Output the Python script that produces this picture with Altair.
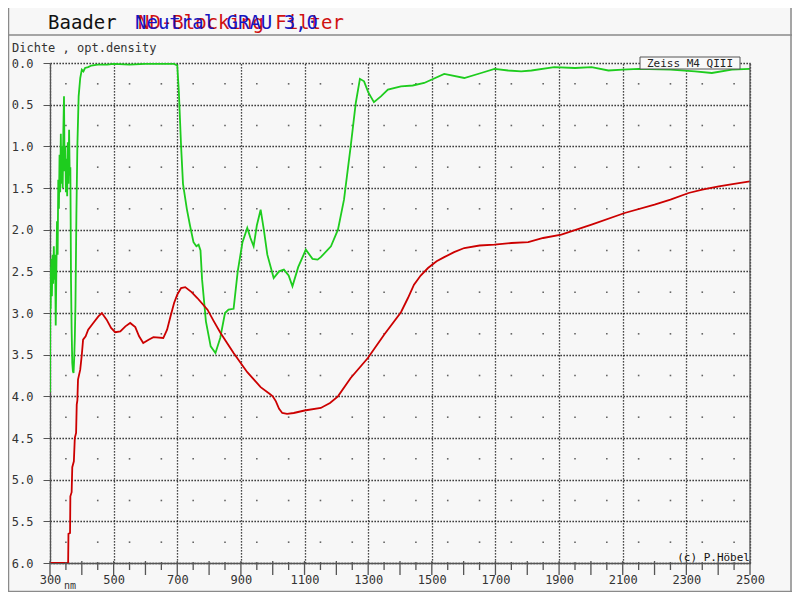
import numpy as np
import pandas as pd
import altair as alt

# green curve: ND-Blocking filter, optical density vs wavelength (nm)
green_nm = [300, 301, 302, 304, 306, 308, 310, 312, 314, 316, 318, 320, 322, 324,
            326, 328, 330, 332, 334, 336, 338, 340, 342, 344, 346, 348, 350, 352,
            354, 356, 358, 360, 362, 364, 366, 368, 370, 372, 374, 376, 378, 380,
            383, 386, 390, 395, 400, 405, 410, 420, 430, 450, 480, 500, 550, 600,
            650, 690, 700, 705, 712, 718, 730, 740, 751, 760, 767, 773, 778, 790,
            805, 820, 835, 850, 861, 877, 890, 905, 920, 930, 940, 950, 962, 972,
            983, 1003, 1020, 1035, 1050, 1062, 1080, 1104, 1125, 1141, 1151, 1183,
            1205, 1224, 1245, 1261, 1274, 1287, 1300, 1318, 1340, 1362, 1403, 1440,
            1476, 1539, 1602, 1655, 1697, 1740, 1781, 1813, 1885, 1950, 2002, 2055,
            2100, 2150, 2250, 2327, 2380, 2443, 2500]
green_od = [3.95, 2.45, 2.95, 2.35, 2.8, 2.3, 2.65, 2.2, 2.6, 2.3, 3.15, 2.5, 1.9, 2.3,
            1.4, 1.75, 1.1, 1.55, 0.85, 1.45, 1.0, 1.5, 0.8, 0.4, 1.3, 1.0, 1.55, 1.15,
            1.6, 0.95, 1.45, 0.8, 1.35, 1.25, 2.6, 3.2, 3.6, 3.7, 3.72, 3.55, 3.3, 2.9,
            1.8, 1.0, 0.4, 0.18, 0.08, 0.1, 0.06, 0.05, 0.03, 0.02, 0.02, 0.01, 0.02, 0.01,
            0.01, 0.01, 0.03, 0.35, 1.0, 1.45, 1.75, 1.95, 2.15, 2.2, 2.18, 2.25, 2.6, 3.1,
            3.4, 3.48, 3.3, 3.0, 2.96, 2.95, 2.5, 2.15, 1.98, 2.1, 2.2, 1.95, 1.76, 2.0,
            2.3, 2.58, 2.5, 2.48, 2.55, 2.68, 2.45, 2.24, 2.35, 2.36, 2.33, 2.2,
            2.0, 1.64, 1.0, 0.48, 0.19, 0.22, 0.35, 0.47, 0.4, 0.32, 0.28, 0.27,
            0.24, 0.13, 0.18, 0.12, 0.07, 0.09, 0.1, 0.09, 0.05, 0.06, 0.05, 0.09,
            0.08, 0.07, 0.08, 0.1, 0.12, 0.08, 0.07]

# red curve: Neutral GRAU 3,0
red_nm = [300, 357, 358, 363, 364, 368, 370, 375, 378, 382, 384, 386, 388, 395, 400,
          404, 412, 420, 436, 452, 463, 478, 492, 505, 521, 537, 552, 568, 580, 593,
          610, 625, 656, 668, 678, 690, 700, 712, 725, 745, 763, 795, 815, 836, 877,
          920, 962, 990, 1000, 1010, 1020, 1030, 1045, 1066, 1100, 1151, 1180, 1205, 1245,
          1299, 1350, 1403, 1425, 1444, 1465, 1488, 1515, 1539, 1570, 1602, 1650, 1697,
          1750, 1803, 1850, 1907, 2002, 2106, 2200, 2250, 2307, 2350, 2402, 2450, 2500]
red_od = [6.0, 6.0, 5.65, 5.64, 5.2, 5.15, 4.85, 4.78, 4.5, 4.44, 4.1, 4.05, 3.8, 3.68, 3.5,
          3.32, 3.28, 3.2, 3.12, 3.04, 3.0, 3.08, 3.18, 3.23, 3.22, 3.16, 3.12, 3.17, 3.28, 3.36,
          3.32, 3.29, 3.3, 3.2, 3.05, 2.88, 2.78, 2.7, 2.69, 2.75, 2.82, 2.96, 3.1, 3.24, 3.48,
          3.71, 3.89, 3.97, 4.0, 4.06, 4.15, 4.2, 4.21, 4.2, 4.17, 4.14, 4.08, 4.0, 3.78,
          3.54, 3.26, 2.99, 2.82, 2.66, 2.55, 2.46, 2.38, 2.33, 2.27, 2.22, 2.19, 2.18,
          2.16, 2.15, 2.1, 2.06, 1.94, 1.8, 1.7, 1.64, 1.56, 1.52, 1.48, 1.45, 1.42]

x_ticks = list(range(300, 2501, 100))
y_ticks = [i * 0.5 for i in range(13)]

W, H = 700, 500
MONO = "DejaVu Sans Mono"
BG = "#f7f7f7"

df = pd.concat([
    pd.DataFrame({"nm": green_nm, "od": green_od, "filter": "ND-Blocking Filter"}),
    pd.DataFrame({"nm": red_nm, "od": red_od, "filter": "Neutral GRAU 3,0"}),
])

xscale = alt.Scale(domain=[300, 2500], nice=False, zero=False)
yscale = alt.Scale(domain=[0, 6], reverse=True, nice=False)

grid_axis = dict(grid=True, gridColor="#111", gridDash=[1.3, 1.7], gridWidth=1.3,
                 labelFont=MONO, labelFontSize=12, labelColor="#333", labelFlush=False,
                 domainColor="#555", domainWidth=1.3, title=None)

lines = alt.Chart(df).mark_line(strokeWidth=1.8, clip=True).encode(
    x=alt.X("nm:Q", scale=xscale,
            axis=alt.Axis(values=x_ticks, ticks=False, labelPadding=11,
                          labelExpr="(datum.value - 300) % 200 == 0 ? datum.value : ''",
                          **grid_axis)),
    y=alt.Y("od:Q", scale=yscale,
            axis=alt.Axis(values=y_ticks, format=".1f", tickSize=7, tickColor="#555",
                          labelPadding=10, **grid_axis)),
    color=alt.Color("filter:N", legend=None,
                    scale=alt.Scale(domain=["ND-Blocking Filter", "Neutral GRAU 3,0"],
                                    range=["#1ecc1e", "#cc0000"])),
)

# single dots in the middle of each grid cell
dot_x, dot_y = np.meshgrid(np.arange(350, 2500, 100), np.arange(0.25, 6, 0.5))
dots = alt.Chart(pd.DataFrame({"nm": dot_x.ravel(), "od": dot_y.ravel()})).mark_square(
    size=2.5, color="#222"
).encode(x=alt.X("nm:Q", scale=xscale), y=alt.Y("od:Q", scale=yscale))

major = alt.Chart(pd.DataFrame({"nm": x_ticks})).mark_rule(color="#555", strokeWidth=1.3).encode(
    x=alt.X("nm:Q", scale=xscale), y=alt.value(H - 2), y2=alt.value(H + 12))
minor = alt.Chart(pd.DataFrame({"nm": list(range(350, 2500, 100))})).mark_rule(
    color="#555", strokeWidth=1.3
).encode(x=alt.X("nm:Q", scale=xscale), y=alt.value(H - 1), y2=alt.value(H + 7))
right_edge = alt.Chart(pd.DataFrame({"nm": [2500]})).mark_rule(color="#555", strokeWidth=1.3).encode(
    x=alt.X("nm:Q", scale=xscale), y=alt.value(0), y2=alt.value(H))

one = pd.DataFrame({"a": [0]})
frame = alt.Chart(one).mark_rule(color="#8a8a8a", strokeWidth=1.5)
frame_lines = (
    frame.encode(x=alt.value(-42), x2=alt.value(742), y=alt.value(-28))
    + frame.encode(x=alt.value(-41.5), y=alt.value(-55), y2=alt.value(529))
    + frame.encode(x=alt.value(741), y=alt.value(-55), y2=alt.value(529))
    + frame.encode(x=alt.value(-42), x2=alt.value(742), y=alt.value(528.5))
)


def label(text, x, y, size, color="#222", align="left", baseline="alphabetic"):
    return alt.Chart(one).mark_text(
        text=text, font=MONO, fontSize=size, color=color, align=align, baseline=baseline
    ).encode(x=alt.value(x), y=alt.value(y))


texts = (
    label("Baader", -2, -34, 19, "#111")
    + label("ND-Blocking Filter", 88, -34, 19, "#d01010")
    + label("Neutral GRAU 3,0", 85, -34, 19, "#1515c0")
    + label("Dichte , opt.density", -38, -15, 12, "#333", baseline="middle")
    + label("(c) P.Höbel", 700, -2 + H, 11, "#111", align="right")
    + label("nm", 14, H + 23, 10, "#333", baseline="middle")
)

zeiss_box = alt.Chart(one).mark_rect(fill="#f9f9f9", stroke="#555", strokeWidth=1).encode(
    x=alt.value(590), x2=alt.value(690), y=alt.value(-6), y2=alt.value(6))
zeiss = label("Zeiss M4 QIII", 640, 0.5, 11, "#222", align="center", baseline="middle")

chart = alt.layer(
    dots, lines, major, minor, right_edge, frame_lines, texts, zeiss_box, zeiss
).properties(
    width=W, height=H, background=BG,
    autosize=alt.AutoSizeParams(type="none"),
    padding={"left": 42, "top": 55, "right": 42, "bottom": 29},
).configure_view(stroke=None, fill=BG)

chart.save("out.html", embed_options={"renderer": "svg", "actions": False})
